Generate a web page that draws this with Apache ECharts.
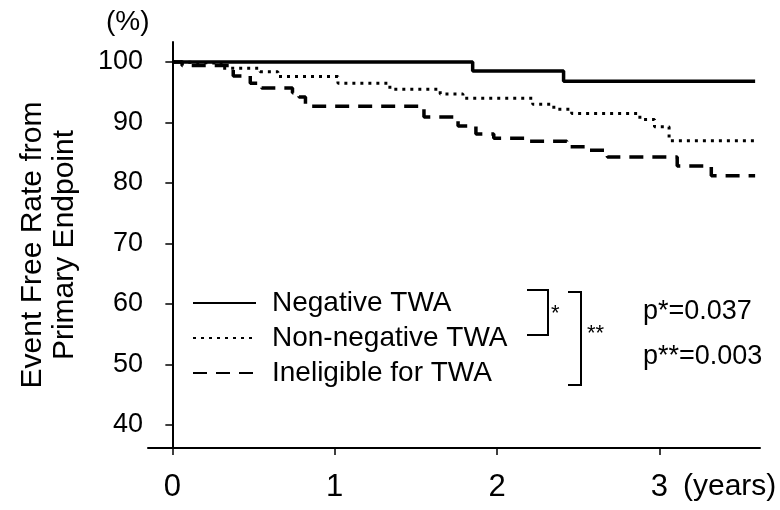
<!DOCTYPE html>
<html>
<head>
<meta charset="utf-8">
<script src="https://cdn.jsdelivr.net/npm/echarts@6/dist/echarts.min.js"></script>
<style>html,body{margin:0;padding:0;background:#fff}#c{width:780px;height:510px}</style>
</head>
<body>
<div id="c"></div>
<script>
// ---- data ----
var seriesNames = ['Negative TWA', 'Non-negative TWA', 'Ineligible for TWA'];
// Kaplan-Meier steps: [time (years), event-free rate (%)] ; value changes at given time
var negativeTWA = [[0,100],[1.85,98.5],[2.41,96.8],[3.59,96.8]];
var nonNegativeTWA = [[0,100],[0.05,99.8],[0.30,98.95],[0.54,98.4],[0.65,97.6],[1.02,96.5],[1.34,95.5],[1.65,94.7],[1.79,94.0],[2.22,93.0],[2.35,92.2],[2.46,91.5],[2.88,90.5],[2.97,89.3],[3.06,87.0],[3.60,87.0]];
var ineligibleTWA = [[0,100],[0.06,99.4],[0.375,97.7],[0.48,96.5],[0.55,95.7],[0.74,94.9],[0.78,94.2],[0.82,92.7],[1.55,90.9],[1.76,89.4],[1.87,88.1],[1.98,87.4],[2.2,86.9],[2.43,86.0],[2.57,85.4],[2.68,84.3],[3.11,82.8],[3.32,81.2],[3.59,81.2]];
var yTicks = [40,50,60,70,80,90,100];
var xTicks = [0,1,2,3];
var pTexts = ['p*=0.037', 'p**=0.003'];

var FONT = "'Liberation Sans', Arial, sans-serif";
var chart = echarts.init(document.getElementById('c'), null, {renderer:'canvas'});
var lineBase = {type:'line', step:'end', symbol:'none', silent:true, animation:false};
chart.setOption({
  animation:false,
  textStyle:{fontFamily:FONT, color:'#000'},
  grid:{left:148, right:20, top:42, bottom:62, containLabel:false, outerBoundsMode:'none'},
  xAxis:{
    type:'value', min:-0.15, max:3.62,
    axisLine:{show:true, lineStyle:{color:'#000', width:2}},
    axisTick:{show:true, customValues:xTicks, length:7, lineStyle:{color:'#000', width:1.5}},
    axisLabel:{customValues:xTicks, fontSize:31, color:'#000', margin:24, fontFamily:FONT},
    splitLine:{show:false}
  },
  yAxis:{
    type:'value', min:36.2, max:103.3,
    name:'Event Free Rate from\nPrimary Endpoint', nameLocation:'middle', nameRotate:90, nameGap:67,
    nameMoveOverlap:false,
    nameTextStyle:{fontSize:30, lineHeight:32, color:'#000', fontFamily:FONT},
    axisLine:{show:true, lineStyle:{color:'#000', width:2}},
    axisTick:{show:true, customValues:yTicks, length:7, lineStyle:{color:'#000', width:1.5}},
    axisLabel:{customValues:yTicks, fontSize:27, color:'#000', margin:5, fontFamily:FONT},
    splitLine:{show:false}
  },
  legend:{
    orient:'vertical', left:187, top:284, itemWidth:63, itemHeight:14, itemGap:7,
    textStyle:{fontSize:28, color:'#000', fontFamily:FONT, padding:[0,0,0,11]},
    itemStyle:{opacity:0},
    selectedMode:false,
    data:seriesNames
  },
  series:[
    Object.assign({}, lineBase, {name:seriesNames[0], data:negativeTWA, lineStyle:{color:'#000', width:3.5, type:'solid'}, itemStyle:{color:'#000'}}),
    Object.assign({}, lineBase, {name:seriesNames[1], data:nonNegativeTWA, lineStyle:{color:'#000', width:3, type:[3,5]}, itemStyle:{color:'#000'}}),
    Object.assign({}, lineBase, {name:seriesNames[2], data:ineligibleTWA, lineStyle:{color:'#000', width:3.5, type:[14,9]}, itemStyle:{color:'#000'}})
  ],
  graphic:[
    {type:'text', left:106, top:8, style:{text:'(%)', font:'28px '+FONT, fill:'#000'}},
    {type:'text', left:683, top:472, style:{text:'(years)', font:'30px '+FONT, fill:'#000'}},
    {type:'polyline', shape:{points:[[527,290],[548,290],[548,335],[527,335]]}, style:{stroke:'#000', lineWidth:2, fill:null}},
    {type:'text', left:551, top:303, style:{text:'*', font:'22px '+FONT, fill:'#000'}},
    {type:'polyline', shape:{points:[[568,292],[581,292],[581,385],[568,385]]}, style:{stroke:'#000', lineWidth:2, fill:null}},
    {type:'text', left:587, top:323, style:{text:'**', font:'22px '+FONT, fill:'#000'}},
    {type:'text', left:643, top:298, style:{text:pTexts[0], font:'27px '+FONT, fill:'#000'}},
    {type:'text', left:643, top:343, style:{text:pTexts[1], font:'27px '+FONT, fill:'#000'}}
  ]
});
</script>
</body>
</html>
